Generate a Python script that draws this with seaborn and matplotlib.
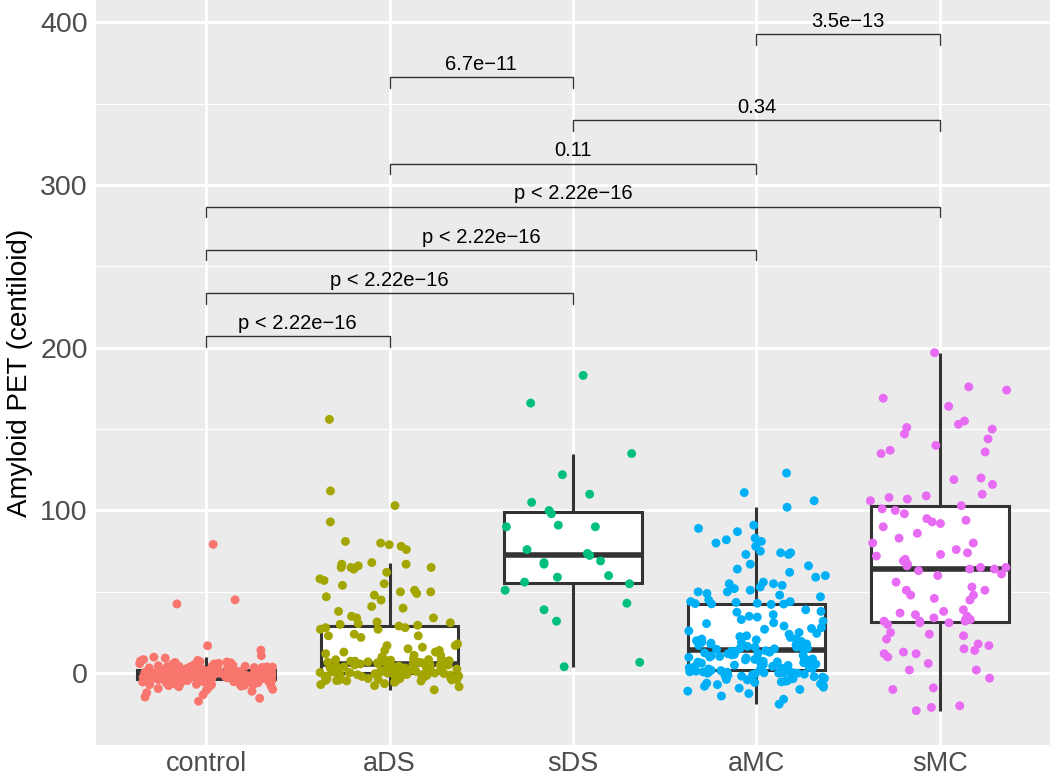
import numpy as np
import pandas as pd
import seaborn as sns
import matplotlib.pyplot as plt

# group names + ggplot default hue colours
groups = ["control", "aDS", "sDS", "aMC", "sMC"]
group_colors = ["#F8766D", "#A3A500", "#00BF7D", "#00B0F6", "#E76BF3"]

# centiloid values (approximate)
control = [
    79.2, 45.1, 42.6, 16.9, 14.2, 10.8, 9.9, 9.3, 8.4,
    7.9, 7.6, 7.1, 6.9, 6.6, 6.4, 6.1, 5.9, 5.7, 5.6, 5.3, 5.1, 4.9, 4.8, 4.6,
    4.5, 4.3, 4.2, 4.1, 4.0,
    3.9, 3.8, 3.7, 3.6, 3.5, 3.3, 3.3, 3.1, 3.0, 2.9, 2.9, 2.8, 2.6, 2.6, 2.5,
    2.4, 2.3, 2.3, 2.2, 2.0, 2.0, 1.9, 1.8, 1.7, 1.6, 1.5, 1.5, 1.4, 1.2, 1.2,
    1.1, 1.0, 0.9, 0.9, 0.8, 0.7, 0.7, 0.6, 0.5, 0.5, 0.4, 0.3, 0.3, 0.2, 0.2,
    0.1, 0.1, 0.0, 0.0, 0.0, 0.1, 0.2, 0.3, 0.4, 0.6,
    -0.1, -0.1, -0.2, -0.3, -0.3, -0.4, -0.5, -0.5, -0.6, -0.7, -0.7, -0.8,
    -0.9, -0.9, -1.0, -1.0, -1.1, -1.2, -1.2, -1.3, -1.4, -1.4, -1.5, -1.6,
    -1.6, -1.7, -1.8, -1.8, -1.9, -2.0, -2.0, -2.1, -2.2, -2.2, -2.3, -2.4,
    -2.4, -2.5, -2.6, -2.6, -2.7, -2.8, -2.8, -2.9, -3.0, -3.0, -3.1, -3.2,
    -3.2, -3.3, -3.4, -3.4, -3.5, -3.6, -3.6, -3.7, -3.8, -3.8, -3.9, -3.9,
    -1.3, -0.8, -2.5, -1.9, -0.4, -3.1, -2.7, -1.1, -0.6, -2.1,
    -4.1, -4.2, -4.4, -4.5, -4.6, -4.8, -4.9, -5.0, -5.2, -5.3, -5.5, -5.6,
    -5.8, -5.9, -6.0, -6.2, -6.3, -6.5, -6.6, -6.8, -6.9, -7.0, -7.2, -7.3,
    -7.5, -7.6, -7.7, -7.9, -4.3, -5.1, -4.7, -6.1, -5.4, -4.0, -6.7,
    -8.3, -8.8, -9.4, -9.9, -10.4, -11.1, -12.0, -13.2, -14.6, -15.4, -17.2,
]
aDS = [
    156.0, 112.0, 103.0, 93.0, 81.0, 80.0, 79.0, 78.0, 76.0, 68.0, 67.0,
    67.0, 66.0, 65.0, 65.0, 65.0, 64.0, 62.0, 58.0, 57.0, 55.0, 54.0, 51.0,
    50.0, 50.0, 49.0, 48.0, 47.0, 45.0, 41.0, 40.0, 38.0, 35.0, 34.0, 34.0,
    31.5, 31.0, 30.5, 30.0, 29.5, 29.0, 28.0, 28.0, 27.0, 27.0,
    24.0, 23.0, 23.0, 22.0, 18.0, 17.0, 17.0, 16.0,
    15.0, 14.0, 14.0, 13.0, 13.0, 12.0, 11.0, 11.0, 10.0,
    9.0, 8.8, 8.4, 8.3, 8.0, 7.9, 7.7, 7.4, 7.4, 7.1, 7.0, 6.8, 6.7, 6.5,
    6.3, 6.2, 6.0, 5.9, 5.7, 5.6, 5.5, 5.4, 5.2, 5.1, 5.0,
    4.8, 4.6, 4.4, 4.3, 4.1, 3.9, 3.8, 3.6, 3.4, 3.3, 3.1, 3.0, 2.8, 2.6,
    2.5, 2.3, 2.1, 2.0, 1.9, 1.7, 1.5, 1.3, 1.2, 1.1, 0.9, 0.8, 0.7, 0.6,
    0.5, 0.4, 0.3, 0.3, 0.2, 0.1, 0.0,
    -0.2, -0.3, -0.5, -0.6, -0.8, -0.9, -1.1, -1.2, -1.4, -1.5, -1.7, -1.8,
    -2.0, -2.1, -2.3, -2.4, -2.6, -2.7, -2.9, -3.0, -3.2, -3.3, -3.5, -3.6,
    -3.8, -3.9, -4.1, -4.2, -4.4, -4.5, -4.7, -4.8, -4.9,
    -5.6, -6.4, -7.0, -7.6, -8.3, -10.2,
]
sDS = [
    183.0, 166.0, 135.0, 122.0, 110.0, 105.0, 100.0, 98.0, 91.0, 90.0, 90.0,
    76.0, 73.6, 72.4, 69.0, 68.0, 67.0, 60.0, 59.0, 56.0, 55.0, 51.0, 43.0,
    39.0, 32.0, 6.7, 4.0,
]
aMC = [
    123.0, 111.0, 106.0, 102.0,
    91.0, 89.0, 87.0, 83.0, 82.0, 81.0, 80.0,
    78.0, 75.0, 74.0, 74.0, 73.0, 73.0, 67.0, 66.0, 64.0, 62.0, 60.0,
    59.0, 56.0, 55.0, 55.0, 54.0, 53.0, 52.0, 51.0, 50.0, 50.0, 49.0, 48.0,
    47.0, 45.0, 44.0, 44.0, 43.5, 43.0, 42.8, 42.6, 42.5, 42.3,
    39.0, 38.0, 37.5, 36.0, 35.0, 34.5, 33.0, 32.0, 31.0, 30.5, 29.0, 28.0,
    27.5, 27.0, 26.0, 25.0, 24.5, 24.0, 23.0, 22.5, 22.0, 21.0, 21.0, 20.5,
    20.0,
    19.5, 19.0, 19.0, 18.5, 18.0, 18.0, 17.5, 17.0, 17.0, 16.5, 16.0, 16.0,
    15.5, 15.0, 15.0,
    14.7, 14.5, 14.2, 13.8, 13.5, 13.2, 12.9, 12.5, 12.2, 12.0, 11.6, 11.3,
    11.0, 10.7, 10.3, 10.0, 9.8, 9.4, 9.1, 8.8, 8.5, 8.2, 7.9, 7.6, 7.3,
    7.0, 6.8, 6.5, 6.2, 5.9, 5.6, 5.3, 5.0, 4.8, 4.5, 4.2, 4.0, 3.7, 3.4,
    3.2, 2.9, 2.6, 2.4, 2.1, 1.8, 1.6, 1.3, 1.0, 0.8, 0.6, 0.4, 0.3, 0.2,
    0.1, 0.0, 0.0, 0.3, 0.9,
    -0.3, -0.6, -0.9, -1.2, -1.5, -1.8, -2.1, -2.4, -2.8, -3.1, -3.4, -3.8,
    -4.1, -4.5, -4.9, -5.3, -5.7, -6.1, -6.6, -7.0, -7.5, -8.0, -8.6, -9.2,
    -10.0, -11.0, -12.5, -14.0, -16.0, -19.0,
]
sMC = [
    197.0, 176.0, 174.0, 169.0, 164.0, 155.0, 153.0, 151.0, 150.0, 147.0,
    144.0, 140.0, 137.0, 136.0, 135.0,
    120.0, 119.0, 116.0, 110.0, 109.0, 108.0, 107.0, 106.0, 103.0, 101.0,
    100.0, 98.0, 95.0, 94.0, 93.0, 92.0, 90.0, 86.0, 83.0, 80.0, 80.0, 76.0,
    74.0, 73.0, 72.0, 70.0, 69.0, 67.0, 66.0, 65.0, 65.0, 64.0, 64.0, 63.0,
    61.0, 60.0, 56.0, 53.0, 51.0, 51.0, 48.0, 48.0, 46.0, 45.0,
    39.0, 38.0, 37.0, 36.0, 35.0, 34.0, 33.0, 33.0, 32.0, 32.0, 32.0, 31.0,
    31.0, 30.0,
    25.0, 24.0, 23.0, 21.0, 18.0, 17.0, 15.0, 14.0, 13.0, 12.0, 12.0, 10.0,
    6.0, 2.0, 2.0, -3.0, -9.0, -10.0, -20.0, -21.0, -23.0,
]

# pairwise comparisons shown as brackets (bottom to top)
pairs = [("control", "aDS"), ("control", "sDS"), ("control", "aMC"),
         ("control", "sMC"), ("aDS", "aMC"), ("sDS", "sMC"),
         ("aDS", "sDS"), ("aMC", "sMC")]
p_labels = ["p < 2.22e\u221216", "p < 2.22e\u221216", "p < 2.22e\u221216",
            "p < 2.22e\u221216", "0.11", "0.34", "6.7e\u221211", "3.5e\u221213"]

values = {"control": control, "aDS": aDS, "sDS": sDS, "aMC": aMC, "sMC": sMC}
df = pd.concat([pd.DataFrame({"group": g, "centiloid": values[g]}) for g in groups],
               ignore_index=True)

sns.set_theme(style="darkgrid", rc={
    "axes.facecolor": "#EBEBEB",
    "grid.color": "white",
    "axes.edgecolor": "#EBEBEB",
})
plt.rcParams["font.family"] = ["Liberation Sans", "DejaVu Sans"]

np.random.seed(3)
fig = plt.figure(figsize=(10.5, 7.76), dpi=100)
ax = fig.add_axes([96 / 1050, 31 / 776, 954 / 1050, 745 / 776])

sns.boxplot(data=df, x="group", y="centiloid", order=groups, width=0.75,
            showfliers=False, showcaps=False, color="white", saturation=1,
            linecolor="#333333", linewidth=2.2,
            medianprops={"linewidth": 4.0}, ax=ax, zorder=2)
sns.stripplot(data=df, x="group", y="centiloid", order=groups, hue="group",
              hue_order=groups, palette=group_colors, jitter=0.38, size=6.4,
              linewidth=0, legend=False, ax=ax, zorder=3)

# significance brackets
y0, step, tip = 207.2, 26.5, 6.5
for i, ((a, b), lab) in enumerate(zip(pairs, p_labels)):
    xa, xb = groups.index(a), groups.index(b)
    y = y0 + step * i
    ax.plot([xa, xa, xb, xb], [y - tip, y, y, y - tip], color="#333333",
            lw=1.0, zorder=4, solid_joinstyle="miter")
    ax.text((xa + xb) / 2, y + 2.0, lab, ha="center", va="bottom",
            fontsize=14.5, color="black", zorder=4)

ax.set_xlim(-0.6, 4.6)
ax.set_ylim(-44.1, 413.7)
ax.set_yticks([0, 100, 200, 300, 400])
ax.set_yticks([50, 150, 250, 350], minor=True)
ax.grid(which="major", color="white", linewidth=2.0)
ax.grid(which="minor", axis="y", color="white", linewidth=0.9)
ax.set_axisbelow(True)
for s in ax.spines.values():
    s.set_visible(False)

ax.tick_params(axis="both", which="major", length=4, width=1.6, color="#333333",
               labelcolor="#4D4D4D")
ax.tick_params(axis="y", which="major", labelsize=20.5, pad=2)
ax.tick_params(axis="x", which="major", labelsize=19.5, pad=0.5)
ax.tick_params(axis="y", which="minor", length=0)
ax.set_xlabel("")
ax.set_ylabel("Amyloid PET (centiloid)", fontsize=20, color="black", labelpad=5)

fig.savefig("out.png", dpi=100)
